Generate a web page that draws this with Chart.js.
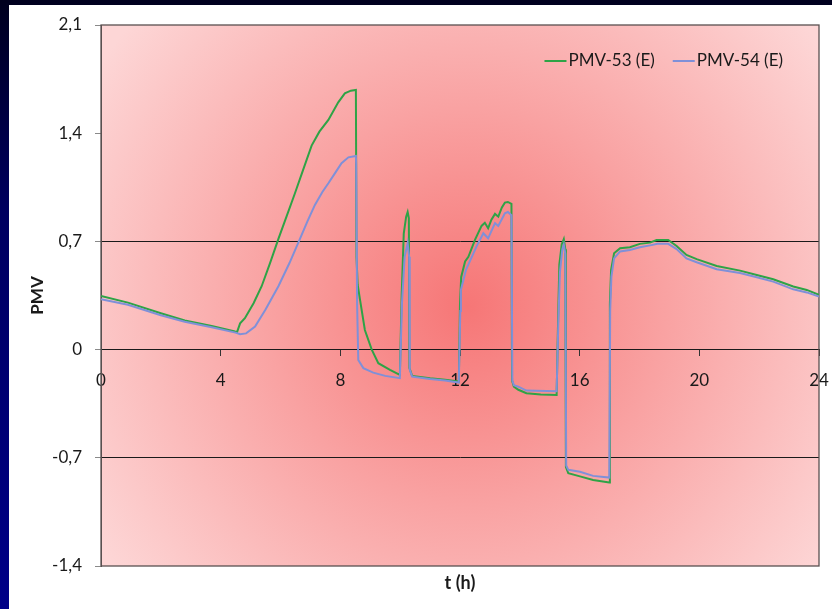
<!DOCTYPE html>
<html>
<head>
<meta charset="utf-8">
<script src="https://cdn.jsdelivr.net/npm/chart.js@4/dist/chart.umd.min.js"></script>
<style>
  html, body { margin: 0; padding: 0; width: 832px; height: 609px; overflow: hidden; }
  body { background: linear-gradient(180deg, #00001e 0%, #000060 35%, #000088 100%); position: relative; }
  #panel { position: absolute; left: 9px; top: 5px; right: 0; bottom: 0; background: #ffffff; }
  #c { position: absolute; left: 0; top: 0; }
</style>
</head>
<body>
<div id="panel"></div>
<canvas id="c" width="832" height="609"></canvas>
<script>
// ---- data ----
const seriesNames = ['PMV-53 (E)', 'PMV-54 (E)'];
const xTicks = [0, 4, 8, 12, 16, 20, 24];
const yTicks = [-1.4, -0.7, 0, 0.7, 1.4, 2.1];

const t53 = [0, 0.9, 2.0, 2.8, 3.7, 4.48, 4.55, 4.65, 4.81, 5.1, 5.37, 5.65, 5.93, 6.2, 6.48, 6.75, 7.04, 7.3, 7.6, 7.93, 8.15, 8.35, 8.52,
  8.54, 8.58, 8.66, 8.82, 9.05, 9.27, 9.66, 9.99,
  10.05, 10.12, 10.2, 10.25, 10.29, 10.31, 10.4, 11.0, 11.5, 11.96,
  12.0, 12.04, 12.17, 12.28, 12.5, 12.72, 12.83, 12.94, 13.05, 13.17, 13.28, 13.4, 13.5, 13.6, 13.72,
  13.74, 13.8, 13.95, 14.22, 14.7, 15.23,
  15.28, 15.32, 15.4, 15.47, 15.52, 15.54, 15.62, 16.01, 16.45, 16.99,
  17.01, 17.05, 17.15, 17.35, 17.68, 18.01, 18.35, 18.57, 18.96, 19.24, 19.57, 19.91, 20.58, 21.36, 21.92, 22.47, 23.14, 23.59, 24];
const v53 = [0.347, 0.304, 0.235, 0.188, 0.153, 0.117, 0.115, 0.17, 0.203, 0.30, 0.41, 0.56, 0.716, 0.86, 1.01, 1.16, 1.32, 1.41, 1.486, 1.60, 1.658, 1.675, 1.68,
  0.60, 0.42, 0.32, 0.127, 0.0, -0.088, -0.131, -0.164,
  0.35, 0.75, 0.86, 0.89, 0.85, -0.12, -0.17, -0.185, -0.195, -0.207,
  0.30, 0.47, 0.57, 0.60, 0.71, 0.80, 0.82, 0.785, 0.84, 0.878, 0.86, 0.92, 0.951, 0.955, 0.943,
  -0.20, -0.24, -0.26, -0.282, -0.29, -0.293,
  0.20, 0.55, 0.68, 0.715, 0.65, -0.76, -0.80, -0.82, -0.843, -0.86,
  0.30, 0.515, 0.623, 0.656, 0.662, 0.684, 0.692, 0.709, 0.709, 0.67, 0.612, 0.585, 0.541, 0.511, 0.483, 0.455, 0.408, 0.386, 0.354];

const t54 = [0, 0.9, 2.0, 2.8, 3.7, 4.5, 4.65, 4.85, 5.15, 5.5, 5.93, 6.3, 6.65, 6.9, 7.15, 7.4, 7.6, 7.85, 8.04, 8.27, 8.52,
  8.53, 8.56, 8.6, 8.77, 9.1, 9.5, 9.99,
  10.06, 10.15, 10.25, 10.3, 10.32, 10.4, 11.0, 11.5, 11.96,
  12.01, 12.03, 12.2, 12.55, 12.78, 12.94, 13.17, 13.28, 13.5, 13.6, 13.72,
  13.75, 13.8, 13.95, 14.22, 15.23,
  15.29, 15.34, 15.42, 15.47, 15.52, 15.55, 15.62, 16.01, 16.45, 16.99,
  17.02, 17.06, 17.15, 17.35, 17.68, 18.01, 18.4, 18.6, 18.96, 19.24, 19.57, 19.91, 20.58, 21.36, 21.92, 22.47, 23.14, 23.59, 24];
const v54 = [0.326, 0.29, 0.222, 0.18, 0.145, 0.11, 0.10, 0.105, 0.149, 0.26, 0.41, 0.56, 0.716, 0.83, 0.936, 1.02, 1.076, 1.15, 1.206, 1.244, 1.253,
  1.20, 0.30, -0.067, -0.12, -0.149, -0.17, -0.185,
  0.30, 0.60, 0.69, 0.60, -0.13, -0.175, -0.19, -0.20, -0.213,
  0.25, 0.386, 0.516, 0.666, 0.753, 0.72, 0.818, 0.80, 0.882, 0.89, 0.87,
  -0.20, -0.23, -0.24, -0.265, -0.27,
  0.20, 0.50, 0.65, 0.68, 0.62, -0.75, -0.778, -0.79, -0.817, -0.828,
  0.25, 0.47, 0.59, 0.635, 0.645, 0.662, 0.676, 0.684, 0.684, 0.65, 0.59, 0.565, 0.52, 0.495, 0.468, 0.44, 0.39, 0.37, 0.343];

const FONT = 'Lato, "Open Sans", "DejaVu Sans", sans-serif';

const bgPlugin = {
  id: 'bgPlugin',
  beforeDraw(chart) {
    const { ctx, chartArea: a } = chart;
    const cx = a.left + (a.right - a.left) * 0.51;
    const cy = a.top + (a.bottom - a.top) * 0.52;
    const g = ctx.createRadialGradient(cx, cy, 0, cx, cy, 440);
    g.addColorStop(0, '#f67676');
    g.addColorStop(0.45, '#f9a2a2');
    g.addColorStop(1, '#fdd6d6');
    ctx.save();
    ctx.fillStyle = g;
    ctx.fillRect(a.left, a.top, a.right - a.left, a.bottom - a.top);
    ctx.restore();
  },
  beforeDatasetsDraw(chart) {
    const { ctx, chartArea: a } = chart;
    ctx.save();
    ctx.strokeStyle = '#5a5050';
    ctx.lineWidth = 1.3;
    ctx.strokeRect(a.left, a.top, a.right - a.left, a.bottom - a.top);
    ctx.restore();
  }
};

// legend drawn inside the plot area, top-right, from the datasets' own labels/colours
const insideLegend = {
  id: 'insideLegend',
  afterDatasetsDraw(chart) {
    const { ctx, chartArea: a } = chart;
    const ds = chart.data.datasets;
    ctx.save();
    ctx.font = '17px ' + FONT;
    ctx.textBaseline = 'middle';
    ctx.textAlign = 'left';
    const y = a.top + 36;
    const lineW = 22, gapLT = 2, gapItems = 18;
    let x = a.right - 36;
    const items = ds.map(d => ({ d, w: ctx.measureText(d.label).width }));
    for (let i = items.length - 1; i >= 0; i--) {
      const it = items[i];
      const tx = x - it.w;
      ctx.fillStyle = '#1a1a1a';
      ctx.fillText(it.d.label, tx, y);
      ctx.strokeStyle = it.d.borderColor;
      ctx.lineWidth = 2;
      ctx.beginPath();
      ctx.moveTo(tx - gapLT - lineW, y);
      ctx.lineTo(tx - gapLT, y);
      ctx.stroke();
      x = tx - gapLT - lineW - gapItems;
    }
    ctx.restore();
  }
};

const fmt = v => {
  const r = Math.round(v * 10) / 10;
  return (Math.abs(r) < 1e-9 ? '0' : String(r)).replace('.', ',');
};

new Chart(document.getElementById('c'), {
  type: 'line',
  data: {
    datasets: [
      { label: seriesNames[0], order: 1, data: t53.map((t, i) => ({ x: t, y: v53[i] })), borderColor: '#2ea346', backgroundColor: '#2ea346', borderWidth: 2, pointRadius: 0, tension: 0, xAxisID: 'x', yAxisID: 'y' },
      { label: seriesNames[1], order: 0, data: t54.map((t, i) => ({ x: t, y: v54[i] })), borderColor: '#7f90d8', backgroundColor: '#7f90d8', borderWidth: 2, pointRadius: 0, tension: 0, xAxisID: 'x', yAxisID: 'y' }
    ]
  },
  options: {
    responsive: false,
    animation: false,
    layout: { padding: { top: 25, right: 13, left: 0, bottom: 0 } },
    plugins: {
      tooltip: { enabled: false },
      legend: { display: false }
    },
    scales: {
      x: {
        type: 'linear',
        position: { y: 0 },
        min: 0, max: 24,
        afterBuildTicks: s => { s.ticks = xTicks.map(v => ({ value: v })); },
        afterFit: s => { s.paddingLeft = 0; s.paddingRight = 0; },
        ticks: { color: '#1a1a1a', font: { family: FONT, size: 17 }, padding: 15, maxRotation: 0 },
        grid: { drawOnChartArea: false, drawTicks: true, tickLength: 6, tickColor: '#333' },
        border: { display: true, color: '#1a1a1a', width: 1 }
      },
      x2: {
        type: 'linear',
        position: 'bottom',
        min: 0, max: 24,
        afterFit: s => { s.height = 43; s.paddingLeft = 0; s.paddingRight = 0; },
        ticks: { display: false },
        grid: { display: false },
        border: { display: false },
        title: { display: true, text: 't (h)', color: '#1a1a1a', font: { family: FONT, size: 18, weight: 'bold' }, padding: { top: 0, bottom: 15 } }
      },
      y: {
        type: 'linear',
        position: 'left',
        min: -1.4, max: 2.1,
        afterFit: s => { s.width = 101; },
        afterBuildTicks: s => { s.ticks = yTicks.map(v => ({ value: v })); },
        ticks: { color: '#1a1a1a', font: { family: FONT, size: 17 }, padding: 13, callback: v => fmt(v) },
        grid: {
          color: c => {
            const v = c.tick ? c.tick.value : 999;
            return (Math.abs(v) < 0.01 || Math.abs(Math.abs(v) - 0.7) < 0.01) ? '#1a1a1a' : 'rgba(0,0,0,0)';
          },
          lineWidth: 1,
          tickLength: 6,
          tickColor: '#8a8a8a'
        },
        border: { display: true, color: '#5a5050' },
        title: { display: true, text: 'PMV', color: '#1a1a1a', font: { family: FONT, size: 17, weight: 'bold' }, padding: { top: 27, bottom: 0 } }
      }
    }
  },
  plugins: [bgPlugin, insideLegend]
});
</script>
</body>
</html>
